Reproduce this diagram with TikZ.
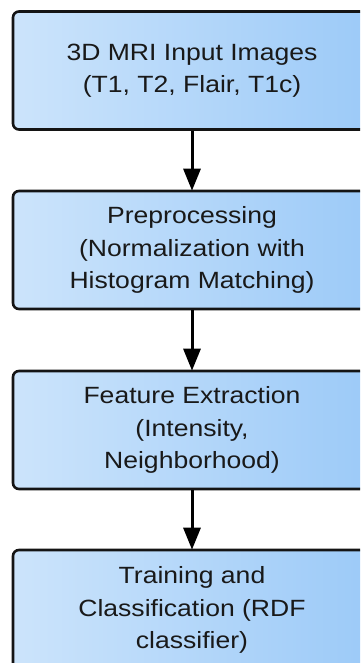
\documentclass[tikz,border=0pt]{standalone}
\usepackage{fontspec}
\setmainfont[FakeStretch=1.13]{Liberation Sans}
\usetikzlibrary{arrows.meta}
\definecolor{boxleft}{RGB}{204,228,251}
\definecolor{boxright}{RGB}{156,202,248}
\definecolor{boxline}{RGB}{20,20,20}
\tikzset{
  stagebox/.style={draw=boxline, line width=2.6pt, rounded corners=6pt,
    left color=boxleft, right color=boxright,
    minimum width=358pt, minimum height=118pt, inner sep=0pt,
    align=center, text=black!90,
    font=\fontsize{23.5}{32.5}\selectfont},
  flowarrow/.style={draw=black, line width=3pt,
    -{Triangle[length=22pt,width=17pt]}, shorten >=-1pt}
}
\begin{document}
\begin{tikzpicture}[x=1pt,y=1pt]
\useasboundingbox (0,0) rectangle (360,-663);
\clip (0,0) rectangle (360,-663);
\fill[white] (0,0) rectangle (360,-663);
\node[stagebox] (b1) at (192,-70.5) {3D MRI Input Images\\(T1, T2, Flair, T1c)};
\node[stagebox] (b2) at (192,-250) {Preprocessing\\(Normalization with\\Histogram Matching)};
\node[stagebox] (b3) at (192,-430) {Feature Extraction\\(Intensity,\\Neighborhood)};
\node[stagebox, minimum height=120pt] (b4) at (192,-610) {Training and\\Classification (RDF\\classifier)};
\draw[flowarrow] (b1.south) -- (b2.north);
\draw[flowarrow] (b2.south) -- (b3.north);
\draw[flowarrow] (b3.south) -- (b4.north);
\end{tikzpicture}
\end{document}
